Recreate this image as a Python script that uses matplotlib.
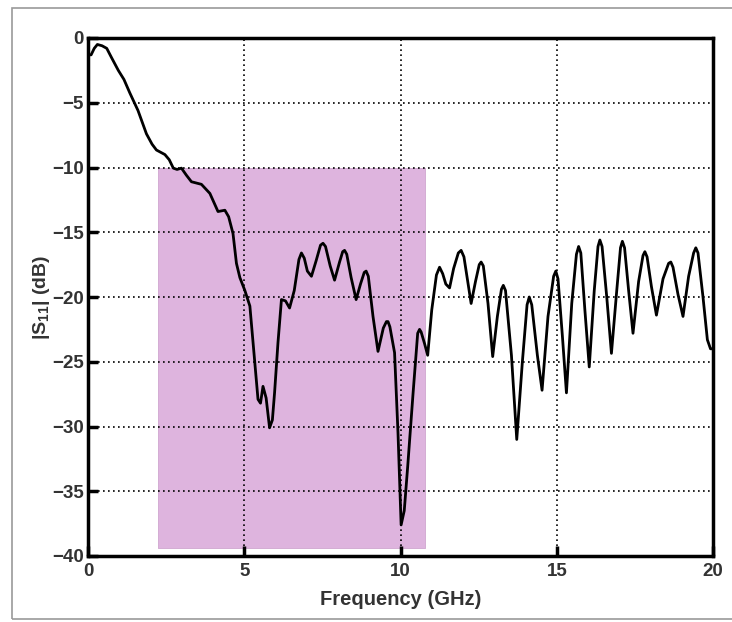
import matplotlib
matplotlib.use("Agg")
import matplotlib.pyplot as plt
from matplotlib.patches import Rectangle

# Frequency (GHz) and |S11| (dB)
freq = [0.0, 0.1, 0.2, 0.3, 0.45, 0.6, 0.75, 0.97, 1.15, 1.34, 1.6, 1.87, 2.05, 2.19, 2.46, 2.6,
        2.73, 2.85, 2.99, 3.15, 3.31, 3.63, 3.9, 4.16, 4.38, 4.5, 4.64, 4.75, 4.86, 5.02, 5.18,
        5.3, 5.44, 5.52, 5.6, 5.7, 5.81, 5.9, 5.97, 6.08, 6.19, 6.32, 6.45, 6.6, 6.75, 6.83,
        6.92, 7.02, 7.15, 7.3, 7.44, 7.52, 7.6, 7.75, 7.89, 8.05, 8.15, 8.21, 8.28, 8.42, 8.58,
        8.72, 8.84, 8.9, 8.97, 9.12, 9.28, 9.45, 9.55, 9.6, 9.66, 9.81, 9.92, 10.02, 10.12,
        10.23, 10.4, 10.55, 10.61, 10.66, 10.77, 10.87, 11.0, 11.15, 11.25, 11.35, 11.45, 11.57,
        11.7, 11.85, 11.94, 12.03, 12.15, 12.26, 12.4, 12.52, 12.58, 12.65, 12.8, 12.95, 13.1,
        13.23, 13.29, 13.36, 13.55, 13.72, 13.9, 14.05, 14.12, 14.2, 14.38, 14.53, 14.72, 14.9,
        14.97, 15.04, 15.18, 15.31, 15.48, 15.63, 15.7, 15.77, 15.9, 16.04, 16.2, 16.32, 16.38,
        16.45, 16.6, 16.75, 16.92, 17.04, 17.1, 17.17, 17.3, 17.44, 17.62, 17.76, 17.82, 17.89,
        18.03, 18.19, 18.4, 18.58, 18.65, 18.72, 18.88, 19.04, 19.22, 19.38, 19.45, 19.52,
        19.68, 19.82, 19.92, 20.0]
s11 = [-1.3, -1.3, -0.8, -0.5, -0.6, -0.8, -1.5, -2.5, -3.2, -4.25, -5.6, -7.4, -8.2, -8.65,
       -9.0, -9.4, -10.05, -10.15, -10.05, -10.6, -11.1, -11.3, -12.0, -13.4, -13.3, -13.8,
       -15.1, -17.4, -18.5, -19.5, -20.7, -24.0, -27.9, -28.2, -26.9, -27.8, -30.1, -29.5,
       -27.4, -23.5, -20.2, -20.3, -20.85, -19.5, -17.1, -16.6, -17.0, -18.0, -18.4, -17.2,
       -16.0, -15.85, -16.1, -17.6, -18.7, -17.3, -16.5, -16.4, -16.7, -18.5, -20.2, -19.0,
       -18.1, -18.0, -18.4, -21.5, -24.2, -22.4, -21.9, -21.9, -22.3, -24.3, -30.5, -37.6,
       -36.5, -33.1, -27.5, -22.8, -22.5, -22.7, -23.6, -24.5, -21.0, -18.3, -17.7, -18.2,
       -19.0, -19.3, -17.8, -16.6, -16.4, -16.9, -18.8, -20.5, -18.8, -17.5, -17.3, -17.6,
       -20.5, -24.6, -21.5, -19.4, -19.1, -19.5, -24.5, -31.0, -25.0, -20.6, -20.0, -20.6,
       -24.5, -27.2, -21.5, -18.4, -18.0, -18.6, -23.0, -27.4, -20.5, -16.7, -16.1, -16.6,
       -21.0, -25.4, -19.5, -16.1, -15.6, -16.1, -20.0, -24.35, -19.5, -16.2, -15.7, -16.2,
       -19.5, -22.8, -18.8, -16.8, -16.5, -16.9, -19.2, -21.4, -18.6, -17.4, -17.3, -17.7,
       -19.8, -21.5, -18.4, -16.6, -16.2, -16.6, -20.0, -23.3, -24.0, -24.0]

# Highlighted band (GHz) and its dB range
band_freq = [2.24, 10.77]
band_db = [-10.0, -39.4]

xticks = [0, 5, 10, 15, 20]
yticks = [0, -5, -10, -15, -20, -25, -30, -35, -40]

plt.rcParams['font.family'] = ['Liberation Sans', 'DejaVu Sans']
plt.rcParams['mathtext.fontset'] = 'custom'
plt.rcParams['mathtext.rm'] = 'Liberation Sans:bold'
plt.rcParams['mathtext.it'] = 'Liberation Sans:bold'

fig = plt.figure(figsize=(7.32, 6.22), dpi=100)
fig.patches.append(Rectangle((12 / 732, 3 / 622), 1.2, (611) / 622, transform=fig.transFigure,
                             fill=False, edgecolor='#9a9a9a', linewidth=1.2))
ax = fig.add_axes([88 / 732, 66 / 622, 625 / 732, 518 / 622])

ax.fill_between(band_freq, band_db[0], band_db[1], color='#deb4de', linewidth=0.6,
                edgecolor='#cfa6cf', zorder=1)
ax.plot(freq, s11, color='black', linewidth=2.0, zorder=3)

ax.set_xlim(0, 20)
ax.set_ylim(-40, 0)
ax.set_xticks(xticks)
ax.set_yticks(yticks)
ax.set_xticklabels([str(t) for t in xticks])
ax.set_yticklabels([f"\u2212{abs(t)}" if t != 0 else "0" for t in yticks])
ax.grid(True, color='black', linestyle=(0, (1, 2)), linewidth=1.2, zorder=2)
ax.set_axisbelow(False)
ax.tick_params(direction='in', length=7, width=2.5, labelsize=13.5, pad=5)
ax.tick_params(axis='y', pad=3)
for lbl in ax.get_xticklabels() + ax.get_yticklabels():
    lbl.set_fontweight('bold')
    lbl.set_color('#333333')
for sp in ax.spines.values():
    sp.set_linewidth(2.5)
ax.set_xlabel('Frequency (GHz)', fontsize=14.5, fontweight='bold', color='#333333', labelpad=7)
ax.set_ylabel(r'|S$_{11}$| (dB)', fontsize=14, fontweight='bold', color='#333333', labelpad=0)

fig.savefig('out.png', dpi=100)
